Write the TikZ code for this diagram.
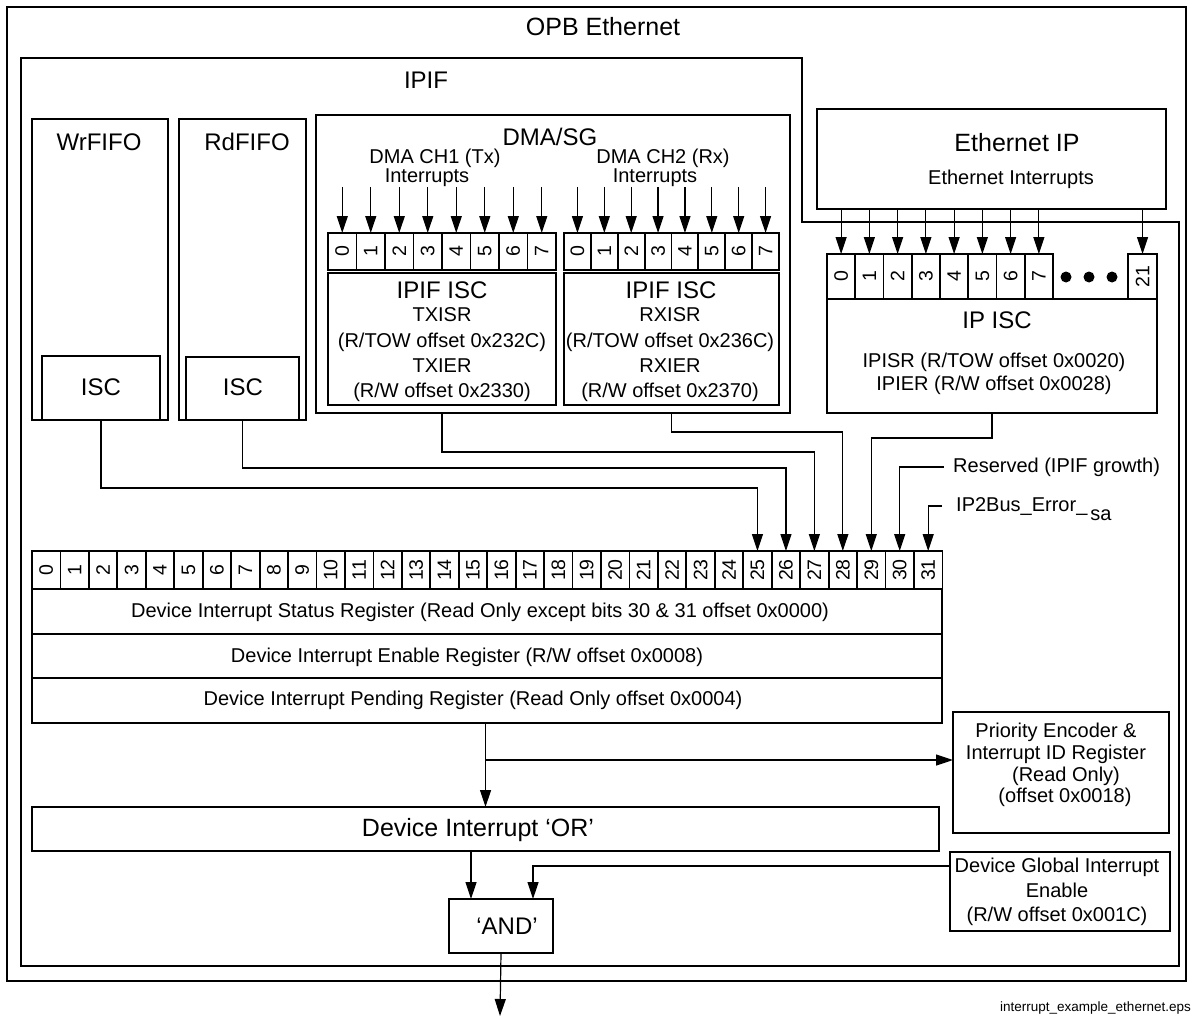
\documentclass[tikz,border=0pt]{standalone}
\usepackage{fontspec}
\setmainfont{Liberation Sans}
\usetikzlibrary{arrows.meta}
\begin{document}
\begin{tikzpicture}[x=1pt,y=-1pt,
  box/.style={draw, line width=1.8pt, inner sep=0, outer sep=0, anchor=north west},
  cell/.style={draw, line width=1.8pt, inner sep=0, outer sep=0, anchor=north west, font=\fontsize{19.5}{19.5}\selectfont},
  conn/.style={line width=1.2pt},
  arr/.style={line width=1.2pt, -{Triangle[length=17pt,width=11pt]}},
  tb/.style={inner sep=0, font=\fontsize{24}{24}\selectfont},
  tm/.style={inner sep=0, font=\fontsize{20}{22}\selectfont},
  dotn/.style={circle, fill, inner sep=0, minimum size=11pt},
]
\useasboundingbox (0,0) rectangle (1196,1017);

% outer frames
\node[box, line width=2.6pt, minimum width=1179pt, minimum height=974pt] (opb) at (7,7) {};
\draw[line width=2.6pt] (21,58) -- (802,58) -- (802,222) -- (1179,222) -- (1179,966) -- (21,966) -- cycle;
\node[tb, font=\fontsize{25}{25}\selectfont] (opbt) at (603,27) {OPB Ethernet};
\node[tb] (ipift) at (426,80) {IPIF};

% FIFOs
\node[box, minimum width=136pt, minimum height=301pt] (wr) at (32,119) {};
\node[box, minimum width=118pt, minimum height=64pt] (wrisc) at (42,356) {};
\node[tb] (wrt) at (99,142) {WrFIFO};
\node[tb] (wrisct) at (101,387) {ISC};
\node[box, minimum width=127pt, minimum height=301pt] (rd) at (179,119) {};
\node[box, minimum width=113pt, minimum height=63pt] (rdisc) at (186,357) {};
\node[tb] (rdt) at (247,142) {RdFIFO};
\node[tb] (rdisct) at (243,387) {ISC};

% DMA/SG
\node[box, minimum width=474pt, minimum height=298pt] (dma) at (316,115) {};
\node[tb] (dmat) at (550,137) {DMA/SG};
\node[tm] (ch1a) at (435,158) {DMA CH1 (Tx)};
\node[tm] (ch1b) at (427,178) {Interrupts};
\node[tm] (ch2a) at (663,158) {DMA CH2 (Rx)};
\node[tm] (ch2b) at (655,178) {Interrupts};
\foreach \i in {0,...,7} {
  \node[cell, minimum width=28.5pt, minimum height=37pt] (tx\i) at ({328+28.5*\i},233) {\rotatebox{90}{\i}};
  \draw[arr] ([yshift=46pt]tx\i.north) -- (tx\i.north);
  \node[cell, minimum width=26.875pt, minimum height=37pt] (rx\i) at ({564+26.875*\i},233) {\rotatebox{90}{\i}};
  \draw[arr] ([yshift=46pt]rx\i.north) -- (rx\i.north);
}
\node[box, minimum width=228pt, minimum height=132pt] (txisc) at (328,273) {};
\node[tb] (txisct) at (442,290) {IPIF ISC};
\node[tm, align=center, font=\fontsize{20}{25.3}\selectfont] (txisctxt) at (442,355) {TXISR\\(R/TOW offset 0x232C)\\TXIER\\(R/W offset 0x2330)};
\node[box, minimum width=215pt, minimum height=132pt] (rxisc) at (564,273) {};
\node[tb] (rxisct) at (671,290) {IPIF ISC};
\node[tm, align=center, font=\fontsize{20}{25.3}\selectfont] (rxisctxt) at (670,355) {RXISR\\(R/TOW offset 0x236C)\\RXIER\\(R/W offset 0x2370)};

% Ethernet IP
\node[box, minimum width=349pt, minimum height=100pt] (eth) at (817,109) {};
\node[tb, font=\fontsize{25}{25}\selectfont] (etht) at (1017,143) {Ethernet IP};
\node[tm] (ethi) at (1011,179) {Ethernet Interrupts};
\foreach \i in {0,...,7} {
  \node[cell, minimum width=28.25pt, minimum height=45pt] (ip\i) at ({827+28.25*\i},254) {\rotatebox{90}{\i}};
  \draw[arr] (eth.south -| ip\i.north) -- (ip\i.north);
}
\node[cell, minimum width=29pt, minimum height=45pt] (ip21) at (1128,254) {\rotatebox{90}{21}};
\draw[arr] (eth.south -| ip21.north) -- (ip21.north);
\node[dotn] (dot1) at (1066,277) {};
\node[dotn] (dot2) at (1089,277) {};
\node[dotn] (dot3) at (1112,277) {};
\node[box, minimum width=330pt, minimum height=114pt] (ipisc) at (827,299) {};
\node[tb] (ipisct) at (997,320) {IP ISC};
\node[tm, align=center, font=\fontsize{20}{23}\selectfont] (ipisctxt) at (994,374) {IPISR (R/TOW offset 0x0020)\\IPIER (R/W offset 0x0028)};

% Device registers
\foreach \i in {0,...,31} {
  \node[cell, minimum width=28.45pt, minimum height=38pt] (b\i) at ({32+28.45*\i},551) {\rotatebox{90}{\i}};
}
\node[box, minimum width=910pt, minimum height=45pt] (stat) at (32,589) {};
\node[box, minimum width=910pt, minimum height=44pt] (enab) at (32,634) {};
\node[box, minimum width=910pt, minimum height=45pt] (pend) at (32,678) {};
\node[tm] (statt) at (480,612) {Device Interrupt Status Register (Read Only except bits 30 \& 31 offset 0x0000)};
\node[tm] (enabt) at (467,657) {Device Interrupt Enable Register (R/W offset 0x0008)};
\node[tm] (pendt) at (473,700) {Device Interrupt Pending Register (Read Only offset 0x0004)};

% connectors into register
\draw[arr] (wrisc.south) -- (wrisc.south |- 0,488) -| (b25.north);
\draw[arr] (rdisc.south) -- (rdisc.south |- 0,468) -| (b26.north);
\draw[arr] (txisc.south |- dma.south) -- (txisc.south |- 0,452) -| (b27.north);
\draw[arr] (rxisc.south |- dma.south) -- (rxisc.south |- 0,432) -| (b28.north);
\draw[arr] (ipisc.south) -- (ipisc.south |- 0,438) -| (b29.north);
\node[tm, anchor=west] (resv) at (953,467) {Reserved (IPIF growth)};
\draw[arr] ([xshift=-9pt]resv.west) -| (b30.north);
\node[tm, anchor=west] (ipe) at (956,506) {IP2Bus\_Error\_\hspace{3pt}\raisebox{-9pt}[0pt][0pt]{sa}};
\draw[arr] ([xshift=-14pt]ipe.west) -| (b31.north);

% bottom part
\node[box, minimum width=216pt, minimum height=121pt] (prio) at (953,712) {};
\node[tm, align=center, font=\fontsize{20}{21.7}\selectfont] (priot) at (1056,765) {Priority Encoder \&\\Interrupt ID Register\\\hspace*{20pt}(Read Only)\\\hspace*{18pt}(offset 0x0018)};
\node[box, minimum width=907pt, minimum height=44pt] (orbox) at (32,807) {};
\node[tb, font=\fontsize{25}{25}\selectfont] (ort) at (478,830) {Device Interrupt ‘OR’};
\node[box, minimum width=220pt, minimum height=79pt] (glob) at (950,852) {};
\node[tm, align=center, font=\fontsize{20}{24.5}\selectfont] (globt) at (1057,892) {Device Global Interrupt\\Enable\\(R/W offset 0x001C)};
\node[box, minimum width=104pt, minimum height=54pt] (andbox) at (449,899) {};
\node[tb] (andt) at (507,926) {‘AND’};

\draw[arr] (orbox.north |- pend.south) -- (orbox.north);
\coordinate (br) at (486,760);
\draw[arr] (br) -- (br -| prio.west);
\coordinate (andin1) at ([xshift=22pt]andbox.north west);
\coordinate (andin2) at ([xshift=84pt]andbox.north west);
\draw[arr] (andin1 |- orbox.south) -- (andin1);
\draw[arr] ([yshift=-14pt]glob.north west) -| (andin2);
\coordinate (outp) at (500,1016);
\draw[arr] (andbox.south) -- (outp);

\node[inner sep=0, anchor=east, font=\fontsize{13.5}{14}\selectfont] (fname) at (1191,1008) {interrupt\_example\_ethernet.eps};
\end{tikzpicture}
\end{document}
